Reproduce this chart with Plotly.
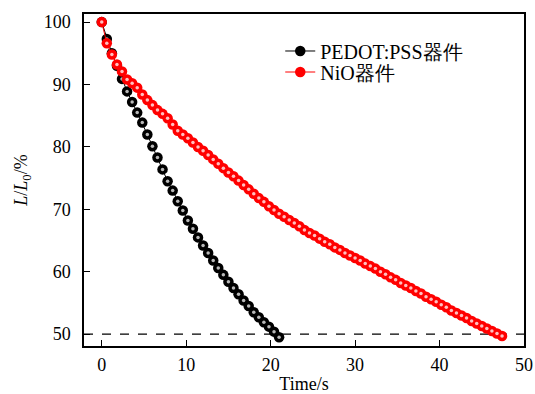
import plotly.graph_objects as go

# PEDOT:PSS device
t_pedot = [0.0, 0.6, 1.2, 1.8, 2.4, 3.0, 3.6, 4.2, 4.8, 5.4, 6.0, 6.6, 7.2, 7.8, 8.4, 9.0,
           9.6, 10.2, 10.8, 11.4, 12.0, 12.6, 13.2, 13.8, 14.4, 15.0, 15.6, 16.2, 16.8,
           17.4, 18.0, 18.6, 19.2, 19.8, 20.4, 21.0]
l_pedot = [100.0, 97.3, 95.0, 93.0, 90.9, 88.9, 87.2, 85.5, 83.9, 82.0, 80.1, 78.3, 76.4,
           74.5, 73.0, 71.3, 69.8, 68.2, 66.9, 65.5, 64.2, 63.0, 61.8, 60.6, 59.5, 58.4,
           57.4, 56.4, 55.4, 54.5, 53.5, 52.7, 51.9, 51.2, 50.4, 49.5]

# NiO device
t_nio = [0.0, 0.6, 1.2, 1.8, 2.4, 3.0, 3.6, 4.2, 4.8, 5.4, 6.0, 6.6, 7.2, 7.8, 8.4, 9.0,
         9.6, 10.2, 10.8, 11.4, 12.0, 12.6, 13.2, 13.8, 14.4, 15.0, 15.6, 16.2, 16.8, 17.4,
         18.0, 18.6, 19.2, 19.8, 20.4, 21.0, 21.6, 22.2, 22.8, 23.4, 24.0, 24.6, 25.2, 25.8,
         26.4, 27.0, 27.6, 28.2, 28.8, 29.4, 30.0, 30.6, 31.2, 31.8, 32.4, 33.0, 33.6, 34.2,
         34.8, 35.4, 36.0, 36.6, 37.2, 37.8, 38.4, 39.0, 39.6, 40.2, 40.8, 41.4, 42.0, 42.6,
         43.2, 43.8, 44.4, 45.0, 45.6, 46.2, 46.8, 47.4]
l_nio = [100.0, 96.6, 94.8, 93.2, 92.1, 90.8, 90.2, 89.5, 88.4, 87.5, 86.7, 85.9, 85.3, 84.6,
         83.6, 82.6, 82.0, 81.4, 80.7, 80.0, 79.4, 78.7, 78.0, 77.3, 76.6, 75.9, 75.3, 74.6,
         73.9, 73.2, 72.5, 71.8, 71.2, 70.5, 69.9, 69.3, 68.8, 68.3, 67.8, 67.3, 66.7, 66.2,
         65.8, 65.3, 64.8, 64.4, 63.9, 63.5, 63.0, 62.6, 62.2, 61.8, 61.3, 60.9, 60.5, 60.0,
         59.6, 59.1, 58.7, 58.2, 57.8, 57.4, 56.9, 56.5, 56.0, 55.6, 55.2, 54.7, 54.3, 53.8,
         53.4, 53.0, 52.6, 52.1, 51.7, 51.3, 50.9, 50.5, 50.1, 49.7]

names = ["PEDOT:PSS器件", "NiO器件"]
threshold = 50
x_range = [-2.1, 50]
y_range = [48.1, 101.3]

FONT = "Liberation Serif"

fig = go.Figure()

fig.add_trace(go.Scatter(
    x=t_pedot, y=l_pedot, name=names[0], mode="lines+markers", legend="legend",
    line=dict(color="black", width=1),
    marker=dict(size=10.5, color="black", line=dict(width=0)),
))
fig.add_trace(go.Scatter(
    x=t_pedot, y=l_pedot, mode="markers", showlegend=False, hoverinfo="skip",
    marker=dict(size=3.5, color="#b8b8b8", line=dict(width=0)),
))
fig.add_trace(go.Scatter(
    x=t_nio, y=l_nio, name=names[1], mode="lines+markers", legend="legend2",
    line=dict(color="red", width=1),
    marker=dict(size=10.5, color="red", line=dict(width=0)),
))
fig.add_trace(go.Scatter(
    x=t_nio, y=l_nio, mode="markers", showlegend=False, hoverinfo="skip",
    marker=dict(size=3.5, color="#ffc0c0", line=dict(width=0)),
))

fig.add_shape(type="line", xref="paper", x0=0, x1=1, yref="y", y0=threshold, y1=threshold,
              line=dict(color="black", width=1.2, dash="dash"), layer="below")

axis_common = dict(
    showgrid=False, zeroline=False, showline=True, linecolor="black", linewidth=1.5,
    mirror=True, ticks="inside", ticklen=6, tickwidth=1, tickcolor="black",
    tickfont=dict(family=FONT, size=18, color="black"),
)

fig.update_layout(
    template="none",
    width=535, height=394,
    margin=dict(l=84, r=11, t=14, b=48, autoexpand=False),
    paper_bgcolor="white", plot_bgcolor="white",
    showlegend=True,
    font=dict(family=FONT),
    xaxis=dict(
        range=x_range, tick0=0, dtick=10, ticklabelstandoff=2,
        title=dict(text="Time/s", font=dict(family=FONT, size=18, color="black"), standoff=6),
        **axis_common,
    ),
    yaxis=dict(
        range=y_range, tick0=50, dtick=10, ticklabelstandoff=8,
        title=dict(text="<i>L</i>/<i>L</i><sub>0</sub>/%", font=dict(family=FONT, size=18, color="black"), standoff=11),
        **axis_common,
    ),
    # minor ticks
    xaxis2=dict(
        overlaying="x", matches="x", range=x_range, side="bottom", anchor="y",
        tick0=0, dtick=5, ticks="inside", ticklen=4, tickwidth=1, tickcolor="black",
        showticklabels=False, showgrid=False, zeroline=False, showline=False,
    ),
    yaxis2=dict(
        overlaying="y", matches="y", range=y_range, side="left", anchor="x",
        tick0=50, dtick=5, ticks="inside", ticklen=4, tickwidth=1, tickcolor="black",
        showticklabels=False, showgrid=False, zeroline=False, showline=False,
    ),
    legend=dict(
        x=0.446, y=0.8886, xanchor="left", yanchor="middle",
        bgcolor="rgba(0,0,0,0)", borderwidth=0,
        font=dict(family=FONT, size=20, color="black"),
        itemwidth=30,
    ),
    legend2=dict(
        x=0.446, y=0.8253, xanchor="left", yanchor="middle",
        bgcolor="rgba(0,0,0,0)", borderwidth=0,
        font=dict(family=FONT, size=20, color="black"),
        itemwidth=30,
    ),
)

fig.write_html("out.html", config={"displayModeBar": False},
               post_script="document.body.style.margin='0';")
